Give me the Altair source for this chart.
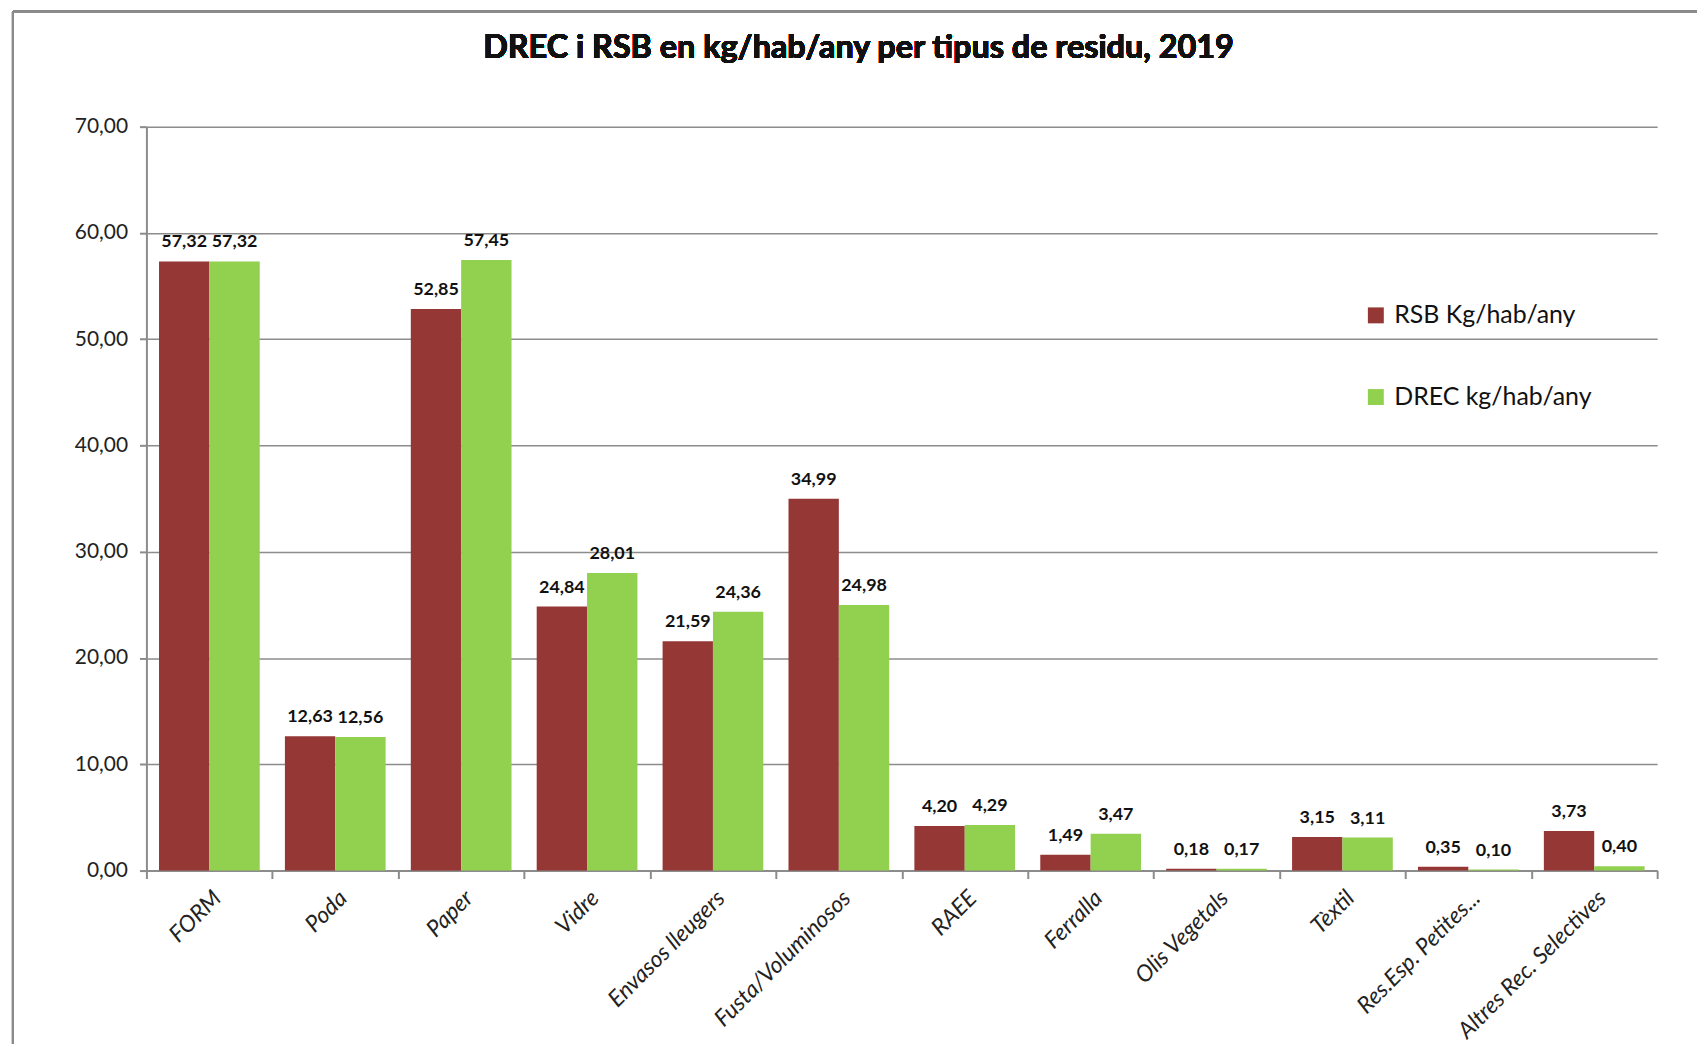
import altair as alt
import pandas as pd

categories = ["FORM", "Poda", "Paper", "Vidre", "Envasos lleugers", "Fusta/Voluminosos",
              "RAEE", "Ferralla", "Olis Vegetals", "Tèxtil", "Res.Esp. Petites...",
              "Altres Rec. Selectives"]
rsb = [57.32, 12.63, 52.85, 24.84, 21.59, 34.99, 4.20, 1.49, 0.18, 3.15, 0.35, 3.73]
drec = [57.32, 12.56, 57.45, 28.01, 24.36, 24.98, 4.29, 3.47, 0.17, 3.11, 0.10, 0.40]
series = ["RSB Kg/hab/any", "DREC kg/hab/any"]
colors = ["#953735", "#92D050"]
y_ticks = [0, 10, 20, 30, 40, 50, 60, 70]
title_text = "DREC i RSB en kg/hab/any per tipus de residu, 2019"

rows = []
for c, r, d in zip(categories, rsb, drec):
    rows.append({"cat": c, "serie": series[0], "value": r, "label": f"{r:.2f}".replace(".", ",")})
    rows.append({"cat": c, "serie": series[1], "value": d, "label": f"{d:.2f}".replace(".", ",")})
df = pd.DataFrame(rows)

FONT = "Lato"
GRID = "#8c8c8c"

x_enc = alt.X("cat:N", sort=categories,
              scale=alt.Scale(paddingInner=0, paddingOuter=0),
              axis=alt.Axis(title=None, labelAngle=-45, labelFontStyle="italic",
                            labelFontSize=23, labelFont=FONT, labelColor="#222",
                            labelLimit=400,
                            tickBand="extent", domainColor=GRID, domainWidth=2,
                            tickColor=GRID, tickWidth=2, tickSize=8, labelPadding=8))
xo_enc = alt.XOffset("serie:N", sort=series,
                     scale=alt.Scale(paddingOuter=0.25, paddingInner=0))
y_enc = alt.Y("value:Q", scale=alt.Scale(domain=[0, 70]),
              axis=alt.Axis(title=None, values=y_ticks,
                            labelExpr="replace(format(datum.value, '.2f'), '.', ',')",
                            grid=True, gridColor=GRID, gridWidth=1.5,
                            domainColor=GRID, domainWidth=2, tickColor=GRID, tickWidth=2,
                            tickSize=7, labelFontSize=21, labelFont=FONT,
                            labelColor="#222", labelPadding=12))

bars = alt.Chart(df).mark_bar().encode(
    x=x_enc, xOffset=xo_enc, y=y_enc,
    color=alt.Color("serie:N", sort=series,
                    scale=alt.Scale(domain=series, range=colors),
                    legend=alt.Legend(title=None, orient="none", legendX=1222, legendY=177,
                                      symbolType="square", symbolSize=256,
                                      symbolStrokeWidth=0, labelFontSize=25,
                                      labelFont=FONT, labelColor="#111", labelLimit=400,
                                      rowPadding=56, labelOffset=6)),
)

labels = alt.Chart(df).mark_text(dy=-10, baseline="bottom", fontWeight="bold",
                                 fontSize=18, font=FONT, color="#111").encode(
    x=alt.X("cat:N", sort=categories), xOffset=alt.XOffset("serie:N", sort=series),
    y="value:Q", text="label:N")

frame_left = alt.Chart(df).mark_rule(color="#8a8a8a", strokeWidth=2).encode(
    x=alt.value(-134), y=alt.value(-116), y2=alt.value(935))
frame_top = alt.Chart(df).mark_rule(color="#8a8a8a", strokeWidth=2).encode(
    x=alt.value(-134), x2=alt.value(1560), y=alt.value(-116))

title = alt.Chart(df).mark_text(font=FONT, fontSize=32.5, fontWeight="bold",
                                color="#111", align="center", baseline="middle").encode(
    x=alt.value(715), y=alt.value(-79), text=alt.value(title_text))

chart = alt.layer(frame_left, frame_top, title, bars, labels).properties(
    width=1517, height=747,
    autosize=alt.AutoSizeParams(type="none"),
    padding={"left": 139, "top": 117, "right": 40, "bottom": 172},
).configure_view(stroke=None)

chart.save("out.html", embed_options={"renderer": "svg", "actions": False})
